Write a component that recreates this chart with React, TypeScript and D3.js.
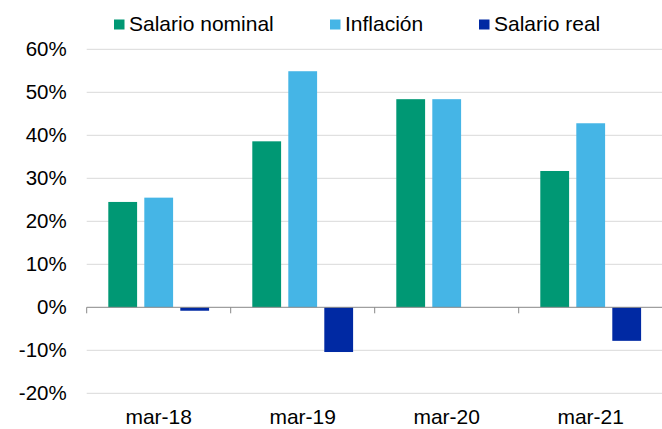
import React from "react";
import * as d3 from "d3";

const categories = ["mar-18", "mar-19", "mar-20", "mar-21"];
const series = ["Salario nominal", "Inflación", "Salario real"];
const salarioNominal = [24.5, 38.6, 48.4, 31.7];
const inflacion = [25.5, 54.9, 48.4, 42.8];
const salarioReal = [-0.8, -10.4, 0, -7.8];
const yTicks = [60, 50, 40, 30, 20, 10, 0, -10, -20];
const colors = ["#009874", "#45B5E6", "#0029A3"];

const W = 662;
const H = 429;
const margin = { top: 49.3, right: -0.7, bottom: 35.7, left: 86.7 };
const font = "'Liberation Sans', Arial, sans-serif";

export default function App() {
  const values = [salarioNominal, inflacion, salarioReal];

  const y = d3.scaleLinear().domain([-20, 60]).range([H - margin.bottom, margin.top]);
  const x = d3.scaleBand<string>().domain(categories).range([margin.left, W - margin.right]).padding(0);
  const step = x.bandwidth();
  const inner = d3.scaleBand<string>().domain(series)
    .range([step * 0.15, step * 0.85]).paddingInner(0.2).paddingOuter(0);

  const legendX = [114, 330, 479];

  return (
    <svg width={W} height={H} style={{ position: "absolute", left: 0, top: 0 }} fontFamily={font}>
      <rect width={W} height={H} fill="#fff" />
      {/* gridlines */}
      {yTicks.filter((t) => t !== 0).map((t) => (
        <line key={t} x1={margin.left} x2={W} y1={y(t)} y2={y(t)} stroke="#d9d9d9" strokeWidth={1} />
      ))}
      {/* y labels */}
      {yTicks.map((t) => (
        <text key={t} x={66.7} y={y(t) + 7} textAnchor="end" fontSize={20.5} fill="#000">
          {t + "%"}
        </text>
      ))}
      {/* bars */}
      {categories.map((c, i) => (
        <g key={c} transform={`translate(${x(c)},0)`}>
          {series.map((s, j) => {
            const v = values[j][i];
            if (v === 0) return null;
            return (
              <rect key={s} x={inner(s)} width={inner.bandwidth()}
                y={y(Math.max(0, v))} height={Math.abs(y(v) - y(0))} fill={colors[j]} />
            );
          })}
        </g>
      ))}
      {/* zero axis */}
      <line x1={margin.left} x2={W} y1={y(0)} y2={y(0)} stroke="#888" strokeWidth={1} />
      {categories.map((c) => (
        <line key={c} x1={x(c)} x2={x(c)} y1={y(0)} y2={y(0) + 6} stroke="#888" strokeWidth={1} />
      ))}
      {/* x labels */}
      {categories.map((c) => (
        <text key={c} x={(x(c) as number) + step / 2} y={424} textAnchor="middle" fontSize={21} fill="#000">
          {c}
        </text>
      ))}
      {/* legend */}
      {series.map((s, j) => (
        <g key={s}>
          <rect x={legendX[j]} y={19.5} width={10.5} height={10} fill={colors[j]} />
          <text x={legendX[j] + 15} y={31} fontSize={21} fill="#000">{s}</text>
        </g>
      ))}
    </svg>
  );
}
